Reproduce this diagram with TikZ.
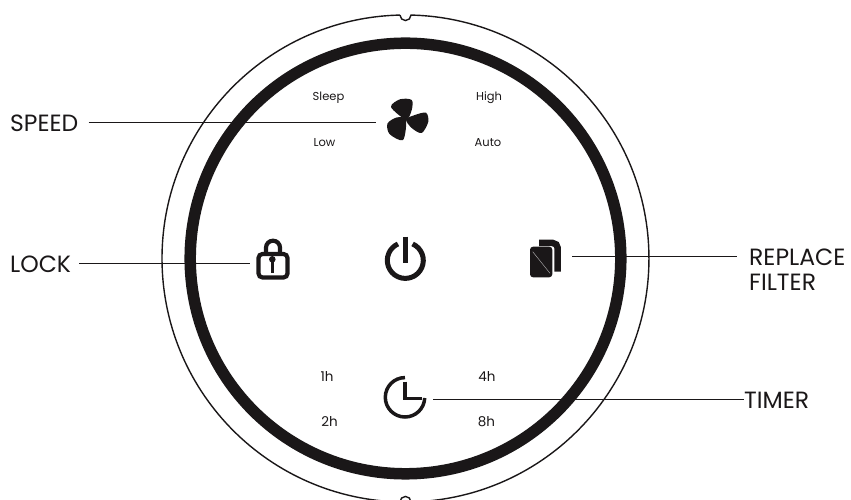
\documentclass[tikz,border=0pt]{standalone}
\usepackage{fontspec}
\setmainfont{Poppins}
\definecolor{inkblack}{HTML}{1A1718}
\tikzset{
    biglabel/.style={anchor=west,inner sep=0pt,font=\fontsize{23.5}{27}\selectfont,text=inkblack},
    smalllabel/.style={inner sep=0pt,font=\fontsize{11.5}{14}\selectfont,text=inkblack},
    hourlabel/.style={smalllabel,font=\fontsize{13.5}{16}\selectfont},
    iconbox/.style={inner sep=0pt,minimum height=10pt},
    leader/.style={draw=inkblack,line width=1pt},
    icon/.style={draw=inkblack,line width=4.2pt}
}
\begin{document}
\begin{tikzpicture}[x=1pt,y=1pt]
\useasboundingbox (0,0) rectangle (851,500);
\coordinate (dial) at (405.5,241.5);

% rim with its two notches, then the black ring
\draw[inkblack,line width=1.4pt] ([shift={(91.3:243.5)}]dial)
    arc[start angle=91.3,end angle=268.7,radius=243.5]
    arc[start angle=180,end angle=0,radius=5.5]
    arc[start angle=-88.7,end angle=88.7,radius=243.5]
    arc[start angle=0,end angle=-180,radius=5.5];
\draw[inkblack,line width=11.5pt] (dial) circle[radius=215.3];

% labels
\node[biglabel] (speed) at (10,377) {SPEED};
\node[biglabel] (lock) at (10,236) {LOCK};
\node[biglabel] (replace) at (749,243) {REPLACE};
\node[biglabel] (filterlabel) at (749,218) {FILTER};
\node[biglabel] (timer) at (744,100) {TIMER};

\node[smalllabel] (sleep) at (328.5,402) {Sleep};
\node[smalllabel] (high) at (489,402) {High};
\node[smalllabel] (low) at (324.5,357) {Low};
\node[smalllabel] (auto) at (488,357) {Auto};
\node[hourlabel] (oneh) at (327,123) {1h};
\node[hourlabel] (fourh) at (487,123) {4h};
\node[hourlabel] (twoh) at (329.5,78) {2h};
\node[hourlabel] (eighth) at (486.5,78) {8h};

% empty boxes round the icons, the leaders stop at them
\node[iconbox,minimum width=54pt] (fan) at (403,377) {};
\node[iconbox,minimum width=46pt] (padlock) at (273,236) {};
\node[iconbox,minimum width=53pt] (filter) at (545.5,243) {};
\node[iconbox,minimum width=56pt] (clock) at (405,100) {};

\draw[leader,shorten <=10pt] (speed) -- (fan);
\draw[leader,shorten <=8pt] (lock) -- (padlock);
\draw[leader,shorten >=12pt] (filter) -- (replace);
\draw[leader] (clock) -- (timer);

% fan
\fill[inkblack] plot[smooth cycle] coordinates {(406,380.5) (391,393) (400,400.7) (411.7,400) (411.7,390)};
\fill[inkblack] plot[smooth cycle] coordinates {(406,380.5) (415,385) (426,387.3) (428.3,378.3) (421.7,367) (411.7,372)};
\fill[inkblack] plot[smooth cycle] coordinates {(406,380.5) (403,360) (389.5,366) (387.5,376.5) (396.7,382.5)};

% padlock
\draw[icon,rounded corners=4pt] (258.5,246) rectangle (287.5,222.5);
\draw[icon] (266,246) -- (266,252.3) arc[start angle=180,end angle=0,radius=7] -- (280,246);
\fill[inkblack] (272.3,240.7) circle[radius=3.3];
\draw[inkblack,line width=2.8pt] (272.3,240.7) -- (272.3,227);

% power button
\draw[inkblack,line width=5pt] ([shift={(66:18)}]405.3,239.6) arc[start angle=66,end angle=-246,radius=18];
\draw[inkblack,line width=5.5pt] (405.5,263.3) -- (405.5,236.7);

% filter
\draw[inkblack,line width=6.5pt,rounded corners=5pt] (539,257) -- (557.7,257) -- (557.7,228.3);
\fill[inkblack,rounded corners=3pt] (530,253.3) rectangle (552.3,222.7);
\draw[white!70!inkblack,line width=0.4pt] (532.7,248.3) -- (550,226.7);

% timer
\draw[inkblack,line width=3.5pt] (405,122.4) arc[start angle=90,end angle=358,radius=19.7];
\draw[inkblack,line width=3.5pt] (405,118.3) -- (405,101.5) -- (421.7,101.5);
\end{tikzpicture}
\end{document}
